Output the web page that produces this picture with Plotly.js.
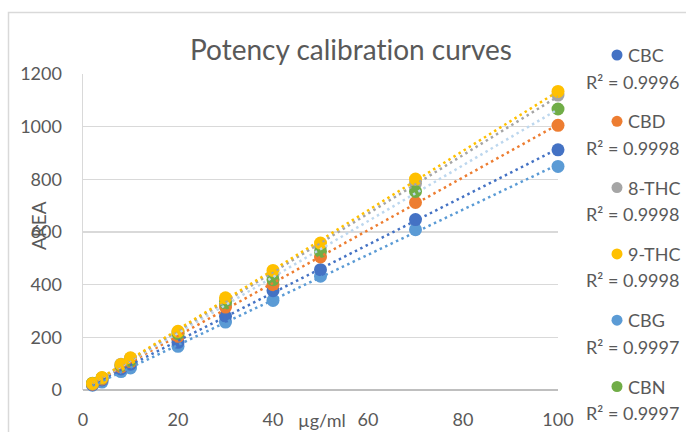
<!DOCTYPE html>
<html>
<head>
<meta charset="utf-8">
<script src="https://cdn.plot.ly/plotly-3.0.1.min.js"></script>
<style>html,body{margin:0;padding:0;background:#fff;}#chart{width:686px;height:432px;}svg text{font-variant-ligatures:none;font-feature-settings:"liga" 0;}</style>
</head>
<body>
<div id="chart"></div>
<script>
// ---- data ----
const conc = [2, 4, 8, 10, 20, 30, 40, 50, 70, 100];
const seriesNames = ['CBC', 'CBD', '8-THC', '9-THC', 'CBG', 'CBN'];
const areaCBC  = [20, 38, 80, 98, 181, 280, 377, 457, 647, 912];
const areaCBD  = [22, 42, 88, 108, 204, 315, 400, 505, 712, 1005];
const area8THC = [24, 46, 98, 121, 220, 340, 440, 545, 785, 1120];
const area9THC = [25, 47, 97, 122, 223, 350, 454, 558, 801, 1134];
const areaCBG  = [18, 30, 70, 84, 166, 258, 340, 432, 609, 849];
const areaCBN  = [26, 46, 93, 112, 214, 330, 419, 526, 754, 1067];
const r2Labels = ['0.9996', '0.9998', '0.9998', '0.9998', '0.9997', '0.9997'];
const xTicks = [0, 20, 40, 60, 80, 100];
const yTicks = [0, 200, 400, 600, 800, 1000, 1200];

// ---- styles ----
const allAreas = [areaCBC, areaCBD, area8THC, area9THC, areaCBG, areaCBN];
const markerColors = ['#4472C4', '#ED7D31', '#A5A5A5', '#FFC000', '#5B9BD5', '#70AD47'];
const trendColors  = ['#4472C4', '#ED7D31', '#A5A5A5', '#FFC000', '#5B9BD5', '#BDD7EE'];
const drawOrder = [4, 0, 1, 2, 5, 3];
const trendOrder = [4, 0, 1, 5, 2, 3];
const FONT = 'Lato, "Open Sans", sans-serif';
const TXT = '#595959';

function linfit(xs, ys) {
  const n = xs.length;
  let sx = 0, sy = 0, sxx = 0, sxy = 0;
  for (let i = 0; i < n; i++) { sx += xs[i]; sy += ys[i]; sxx += xs[i]*xs[i]; sxy += xs[i]*ys[i]; }
  const m = (n*sxy - sx*sy) / (n*sxx - sx*sx);
  const b = (sy - m*sx) / n;
  return [m, b];
}

const traces = [];
drawOrder.forEach(i => {
  traces.push({
    type: 'scatter', mode: 'markers', x: conc, y: allAreas[i], name: seriesNames[i],
    marker: {color: markerColors[i], size: 13}, cliponaxis: false, showlegend: false, hoverinfo: 'skip'
  });
});
trendOrder.forEach(i => {
  const [m, b] = linfit(conc, allAreas[i]);
  const x0 = Math.min(...conc), x1 = Math.max(...conc);
  traces.push({
    type: 'scatter', mode: 'lines', x: [x0, x1], y: [m*x0 + b, m*x1 + b],
    line: {color: trendColors[i], width: 2.5, dash: '2.5px,3.5px'}, cliponaxis: false,
    showlegend: false, hoverinfo: 'skip'
  });
});

// pixel helpers for the plot area
const L = 83, R = 128, T = 74, B = 42, W = 686, H = 432;
const pw = W - L - R, ph = H - T - B;
const px = v => (v - L) / pw;
const py = v => (H - B - v) / ph;

const annotations = [];
const shapes = [];
// chart frame
shapes.push({type: 'rect', xref: 'paper', yref: 'paper', x0: px(8.5), x1: px(700), y0: py(12.5), y1: py(450),
  line: {color: '#d9d9d9', width: 1.5}, fillcolor: 'rgba(0,0,0,0)', layer: 'below'});

const legTop = 55, legStep = 66.3, r2Off = 26.5;
seriesNames.forEach((nm, i) => {
  const yc = legTop + i*legStep;
  shapes.push({type: 'circle', xref: 'paper', yref: 'paper', xsizemode: 'pixel', ysizemode: 'pixel',
    xanchor: px(617), yanchor: py(yc), x0: -5.5, x1: 5.5, y0: -5.5, y1: 5.5,
    fillcolor: markerColors[i], line: {width: 0}});
  annotations.push({xref: 'paper', yref: 'paper', x: px(626), y: py(yc), xanchor: 'left', yanchor: 'middle',
    text: nm, showarrow: false, font: {family: FONT, size: 18, color: TXT}});
  annotations.push({xref: 'paper', yref: 'paper', x: px(632), y: py(yc + r2Off), xanchor: 'center', yanchor: 'middle',
    text: 'R² = ' + r2Labels[i], showarrow: false, font: {family: FONT, size: 18, color: TXT}});
});
// axis titles
annotations.push({xref: 'paper', yref: 'paper', x: px(38), y: py(226), xanchor: 'center', yanchor: 'middle',
  text: 'AREA', textangle: -90, showarrow: false, font: {family: FONT, size: 19, color: TXT}});
annotations.push({xref: 'paper', yref: 'paper', x: px(322), y: py(407), xanchor: 'center', yanchor: 'top',
  text: 'µg/ml', showarrow: false, font: {family: FONT, size: 18, color: TXT}});

const layout = {
  width: W, height: H,
  margin: {l: L, r: R, t: T, b: B, pad: 0},
  paper_bgcolor: '#ffffff', plot_bgcolor: '#ffffff',
  title: {text: 'Potency calibration curves', font: {family: FONT, size: 28, color: TXT},
    x: px(351), xanchor: 'center', y: 1 - 50/H, yanchor: 'middle', xref: 'paper'},
  showlegend: false,
  xaxis: {range: [0, 100], tickvals: xTicks, ticktext: xTicks.map(String), showgrid: false, zeroline: false,
    showline: false, ticks: 'outside', ticklen: 13, tickcolor: 'rgba(0,0,0,0)',
    tickfont: {family: FONT, size: 18, color: TXT}, fixedrange: true},
  yaxis: {range: [0, 1200], tickvals: yTicks, ticktext: yTicks.map(String), showgrid: true, gridcolor: '#d9d9d9',
    gridwidth: 1.5, zeroline: true, zerolinecolor: '#bfbfbf', zerolinewidth: 1.5,
    showline: true, linecolor: '#d9d9d9', linewidth: 1.5,
    ticks: 'outside', ticklen: 16, tickcolor: 'rgba(0,0,0,0)',
    tickfont: {family: FONT, size: 18, color: TXT}, fixedrange: true},
  annotations: annotations,
  shapes: shapes
};

Plotly.newPlot('chart', traces, layout, {displayModeBar: false, staticPlot: true});
</script>
</body>
</html>
